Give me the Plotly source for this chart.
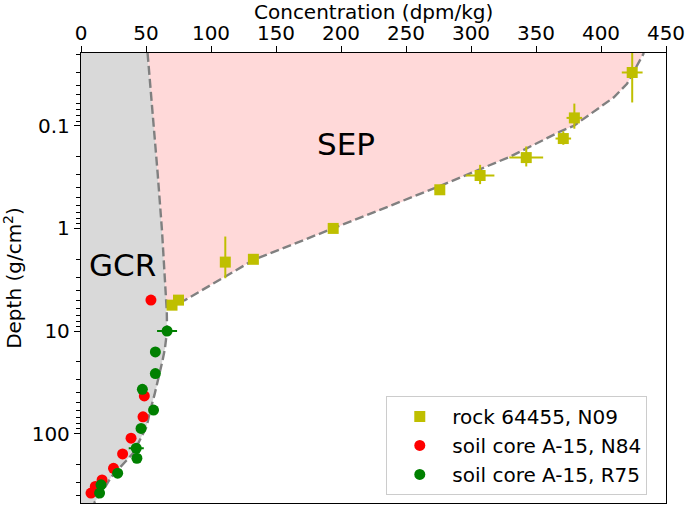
import numpy as np
import plotly.graph_objects as go

# ---- data ----
rock_conc = [424, 379.5, 371, 342.5, 307, 276, 194, 132.6, 111, 75, 70]
rock_depth = [0.0302, 0.0837, 0.133, 0.204, 0.305, 0.42, 1.0, 2.0, 2.13, 5.0, 5.6]
rock_xerr = [8, 6, 6, 13, 11, 4, 2, 2, 2, 2, 2]
rock_yerr = [0.029, 0.023, 0.02, 0.045, 0.065, 0.03, 0.03, 0.05, 0.93, 0.2, 0.2]

n84_conc = [53.8, 48.7, 47.7, 38.5, 32.0, 25.0, 16.2, 11.0, 7.7]
n84_depth = [5.0, 43, 68.7, 111, 158, 218, 283, 328, 380]

r75_conc = [66.2, 57.2, 57.2, 47.2, 55.8, 46.2, 42.5, 43.0, 28.2, 15.4, 14.3]
r75_depth = [10.0, 16, 26, 37, 59, 89, 139, 174, 243, 316, 380]
r75_xerr = [7.7, 0, 0, 0, 0, 0, 5.8, 0, 0, 0, 0]
r75_yerr = [0.5, 0, 0, 0, 0, 0, 12, 0, 0, 0, 0]

gcr_conc = [51.2, 55.4, 59.0, 62.3, 65.1, 66.0, 66.2, 64.5, 62.5, 59.5, 56.5, 53.3, 50.5, 40.2, 23.5, 17.2, 12.0, 10.0]
gcr_depth = [0.0195, 0.077, 0.294, 1.05, 3.7, 6.5, 10, 15, 20, 30, 42, 59, 85.5, 155, 262, 354, 438, 475]

sep_conc = [65.7, 80, 133, 194, 246, 271, 330, 369, 379, 409.7, 420, 431.5, 433]
sep_depth = [5.6, 5.0, 2.02, 1.0, 0.555, 0.41, 0.2, 0.113, 0.1, 0.053, 0.039, 0.021, 0.0195]

x_ticks = [0, 50, 100, 150, 200, 250, 300, 350, 400, 450]
y_ticks = [0.1, 1, 10, 100]
y_ticktext = ["0.1", "1", "10", "100"]

Y_TOP, Y_BOT = 0.0195, 475

FONT = "DejaVu Sans"
YEL = "#bfbf00"
RED = "#ff0000"
GRN = "#008000"

fig = go.Figure()

# gray GCR region
gx = [0] + gcr_conc + [0]
gy = [Y_TOP] + gcr_depth + [Y_BOT]
fig.add_trace(go.Scatter(x=gx, y=gy, fill="toself", fillcolor="#d9d9d9",
                         line=dict(width=0), mode="lines", showlegend=False,
                         hoverinfo="skip"))

# pink SEP region
k = gcr_depth.index(3.7)
px = gcr_conc[:k + 1] + sep_conc
py = gcr_depth[:k + 1] + sep_depth
fig.add_trace(go.Scatter(x=px, y=py, fill="toself", fillcolor="#ffd9d9",
                         line=dict(width=0), mode="lines", showlegend=False,
                         hoverinfo="skip"))

# dashed model curves
dash = "9px,4px"
fig.add_trace(go.Scatter(x=gcr_conc, y=gcr_depth, mode="lines",
                         line=dict(color="#808080", width=2.4, dash=dash),
                         showlegend=False, hoverinfo="skip"))
fig.add_trace(go.Scatter(x=sep_conc, y=sep_depth, mode="lines",
                         line=dict(color="#808080", width=2.4, dash=dash),
                         showlegend=False, hoverinfo="skip"))

# data
fig.add_trace(go.Scatter(
    x=rock_conc, y=rock_depth, mode="markers", name="rock 64455, N09",
    marker=dict(symbol="square", size=11, color=YEL),
    error_x=dict(type="data", array=rock_xerr, color=YEL, thickness=2, width=0),
    error_y=dict(type="data", array=rock_yerr, color=YEL, thickness=2, width=0),
    legendgroup="a"))
fig.add_trace(go.Scatter(
    x=n84_conc, y=n84_depth, mode="markers", name="soil core A-15, N84",
    marker=dict(symbol="circle", size=11, color=RED),
    legendgroup="b"))
fig.add_trace(go.Scatter(
    x=r75_conc, y=r75_depth, mode="markers", name="soil core A-15, R75",
    marker=dict(symbol="circle", size=11, color=GRN),
    error_x=dict(type="data", array=r75_xerr, color=GRN, thickness=2, width=0),
    error_y=dict(type="data", array=r75_yerr, color=GRN, thickness=2, width=0),
    legendgroup="c"))

fig.add_annotation(x=203.7, y=np.log10(0.150), text="SEP", showarrow=False,
                   font=dict(family=FONT, size=31, color="black"))
fig.add_annotation(x=31.8, y=np.log10(2.25), text="GCR", showarrow=False,
                   font=dict(family=FONT, size=31, color="black"))

# x axis title (top)
fig.add_annotation(x=0.5, xref="paper", y=1, yref="paper", yanchor="middle",
                   yshift=41, text="Concentration (dpm/kg)", showarrow=False,
                   font=dict(family=FONT, size=20, color="black"))

fig.update_layout(
    width=685, height=506,
    margin=dict(l=81, r=19, t=53, b=3),
    paper_bgcolor="white", plot_bgcolor="white",
    font=dict(family=FONT, size=20, color="black"),
    legend=dict(x=0.968, xanchor="right", y=0.018, yanchor="bottom",
                bgcolor="white", bordercolor="#cccccc", borderwidth=1,
                font=dict(family=FONT, size=20), tracegroupgap=0,
                itemwidth=55),
    showlegend=True,
)
fig.update_xaxes(
    side="top", range=[0, 450], tickvals=x_ticks, automargin=False,
    showline=True, linecolor="black", linewidth=1.3, mirror=True,
    ticks="outside", ticklen=6, tickwidth=1.3, tickcolor="black",
    ticklabelstandoff=-2, ticklabeloverflow="allow",
    showgrid=False, zeroline=False,
    tickfont=dict(size=20),
)
fig.update_yaxes(
    type="log", range=[np.log10(Y_BOT), np.log10(Y_TOP)], automargin=False,
    tickvals=y_ticks, ticktext=y_ticktext,
    showline=True, linecolor="black", linewidth=1.3, mirror=True,
    ticks="outside", ticklen=6, tickwidth=1.3, tickcolor="black",
    minor=dict(ticks="outside", ticklen=3.5, tickwidth=1, tickcolor="black",
               dtick="D1", showgrid=False),
    showgrid=False, zeroline=False,
    title=dict(text="Depth (g/cm<sup>2</sup>)", font=dict(size=20), standoff=16),
    tickfont=dict(size=20),
)

# remove the default 8px page margin so the figure sits at the window origin
fig.write_html("out.html", config={"displayModeBar": False},
               post_script="document.body.style.margin='0';")
